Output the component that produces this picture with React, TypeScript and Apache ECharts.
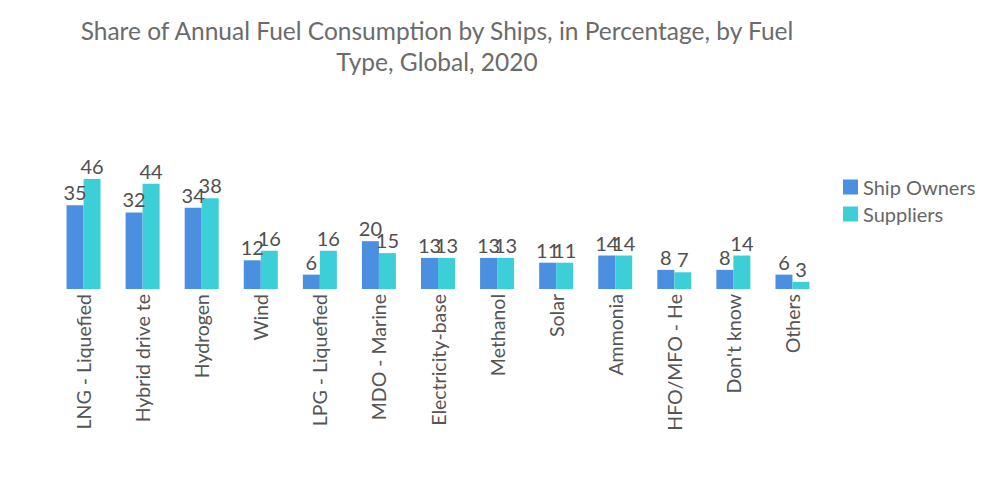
import React, { useEffect, useRef } from "react";
import * as echarts from "echarts";

const categories = [
  "LNG - Liquefied",
  "Hybrid drive te",
  "Hydrogen",
  "Wind",
  "LPG - Liquefied",
  "MDO - Marine",
  "Electricity-base",
  "Methanol",
  "Solar",
  "Ammonia",
  "HFO/MFO - He",
  "Don't know",
  "Others",
];
const shipOwners = [35, 32, 34, 12, 6, 20, 13, 13, 11, 14, 8, 8, 6];
const suppliers = [46, 44, 38, 16, 16, 15, 13, 13, 11, 14, 7, 14, 3];
const seriesNames = ["Ship Owners", "Suppliers"];
const titleText = "Share of Annual Fuel Consumption by Ships, in Percentage, by Fuel\nType, Global, 2020";

export default function App() {
  const ref = useRef<HTMLDivElement>(null);
  useEffect(() => {
    if (!ref.current) return;
    const chart = echarts.init(ref.current, null, { renderer: "svg" });
    const labelStyle = {
      show: true,
      position: "top" as const,
      distance: 3,
      fontSize: 20,
      color: "#505050",
      fontFamily: "Lato",
    };
    chart.setOption({
      animation: false,
      textStyle: { fontFamily: "Lato" },
      title: {
        text: titleText,
        left: 424,
        top: 2,
        textAlign: "center",
        textStyle: {
          fontSize: 24.5,
          fontWeight: "normal",
          color: "#6b6b6b",
          fontFamily: "Lato",
          lineHeight: 31,
        },
      },
      legend: {
        orient: "vertical",
        left: 830,
        top: 164,
        itemWidth: 15,
        itemHeight: 15,
        itemGap: 7,
        icon: "rect",
        textStyle: { fontSize: 20, color: "#666", fontFamily: "Lato" },
        data: seriesNames,
      },
      grid: { left: 46, right: 170, top: 171, bottom: 207 },
      xAxis: {
        type: "category",
        data: categories,
        axisLine: { show: false },
        axisTick: { show: false },
        axisLabel: {
          rotate: 90,
          interval: 0,
          margin: 5,
          fontSize: 19.5,
          color: "#555",
          fontFamily: "Lato",
        },
      },
      yAxis: {
        type: "value",
        min: 0,
        max: 46,
        show: false,
        splitLine: { show: false },
      },
      series: [
        {
          name: seriesNames[0],
          type: "bar",
          data: shipOwners,
          barWidth: 17,
          barGap: "0%",
          itemStyle: { color: "#4a8fe0" },
          label: labelStyle,
        },
        {
          name: seriesNames[1],
          type: "bar",
          data: suppliers,
          barWidth: 17,
          barGap: "0%",
          itemStyle: { color: "#3dcfd8" },
          label: labelStyle,
        },
      ],
    });
    return () => chart.dispose();
  }, []);
  return <div ref={ref} style={{ width: 984, height: 488 }} />;
}
